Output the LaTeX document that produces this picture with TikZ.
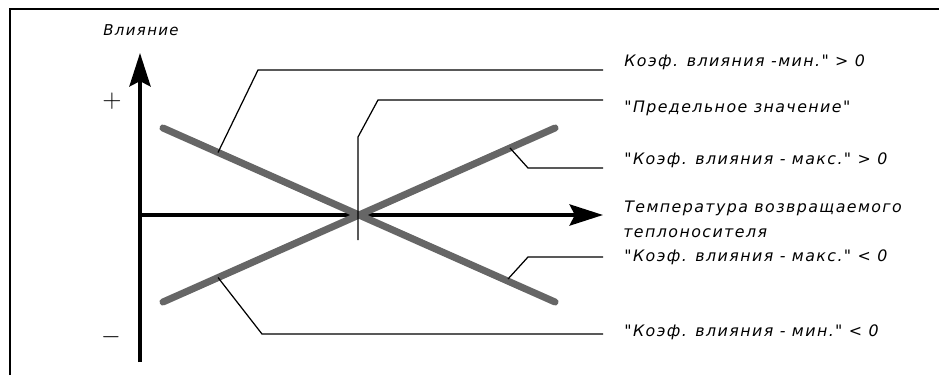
\documentclass[tikz,border=0pt]{standalone}
\usepackage{fontspec}
\setmainfont{DejaVu Sans}
\newfontfamily\lblfont[LetterSpace=9]{DejaVu Sans}
\usepackage{tikz}
\usetikzlibrary{arrows.meta,positioning}

\tikzset{
  lbl/.style={anchor=west, inner sep=0pt, font=\lblfont\fontsize{9pt}{11pt}\selectfont\itshape},
  axis/.style={line width=2.3pt, -{Stealth[length=19pt,width=12pt,inset=3pt]}},
  coef/.style={line width=4pt, black!60, line cap=round},
  leader/.style={line width=0.7pt}
}

\begin{document}
\begin{tikzpicture}[x=0.02cm, y=-0.02cm]
  \useasboundingbox (0,0) rectangle (939,375);
  % Frame (top and left only)
  \draw[line width=1.1pt] (10,375) -- (10,9) -- (939,9);
  % Axes
  \coordinate (o) at (140,215);
  \draw[axis] (140,362) -- (140,53) coordinate (ytip);
  \draw[axis] (o) -- (603,215) coordinate (xtip);
  \node[font=\lblfont\itshape\fontsize{8.5pt}{10pt}\selectfont] (yname) at (141,30) {Влияние};
  \node[font=\fontsize{14pt}{16pt}\selectfont] (plus) at (112,101) {$+$};
  \node[font=\fontsize{14pt}{16pt}\selectfont] (minus) at (111,337) {$-$};
  % Coefficient lines
  \draw[coef] (163,128) -- (555,302);
  \draw[coef] (163,302) -- (555,128);
  % Points on the lines where the leaders start
  \coordinate (pminpos) at (218,152.5);
  \coordinate (pmaxpos) at (510,148);
  \coordinate (pmaxneg) at (508,279);
  \coordinate (pminneg) at (218,277.5);
  \coordinate (plimit) at (358,240);
  % Labels
  \node[lbl] (minpos) at (624,62) {Коэф. влияния -мин." > 0};
  \node[lbl] (limit) at (624,108) {"Предельное значение"};
  \node[lbl] (maxpos) at (624,160) {"Коэф. влияния - макс." > 0};
  \node[lbl] (temp) at (624,208) {Температура возвращаемого};
  \node[lbl] (temp2) at (623,233) {теплоносителя};
  \node[lbl] (maxneg) at (624,257) {"Коэф. влияния - макс." < 0};
  \node[lbl] (minneg) at (624,332) {"Коэф. влияния - мин." < 0};
  % Leaders
  \draw[leader] (pminpos) -- (258,70) -- (603,70);
  \draw[leader] (plimit) -- (358,137) -- (378,100) -- (603,100);
  \draw[leader] (pmaxpos) -- (528,168) -- (603,168);
  \draw[leader] (pmaxneg) -- (528,257) -- (603,257);
  \draw[leader] (pminneg) -- (262,334) -- (603,334);
\end{tikzpicture}
\end{document}
